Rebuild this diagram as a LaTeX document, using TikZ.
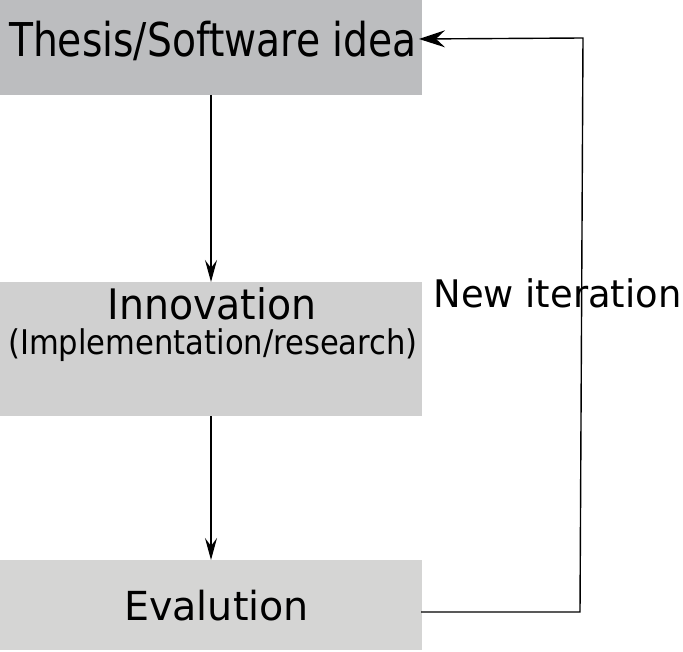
\documentclass[tikz,border=0pt]{standalone}
\usepackage{fontspec}
\setmainfont{DejaVu Sans}
\usetikzlibrary{arrows.meta}
\tikzset{
  box/.style={draw=none, inner sep=0pt, outer sep=0pt, minimum width=422pt},
  lbl/.style={anchor=base, inner sep=0pt, outer sep=0pt},
  conn/.style={line width=1.4pt, black},
  tip/.style={-{Stealth[length=22pt,width=12pt,inset=8pt]}},
  bigtip/.style={-{Stealth[length=26pt,width=17pt,inset=9pt]}}
}
\begin{document}
\begin{tikzpicture}[x=1pt,y=-1pt]
\useasboundingbox (0,0) rectangle (683,652);
\node[box, fill={rgb,255:red,188;green,189;blue,191}, minimum height=95pt, anchor=north west] (title) at (0,0) {};
\node[box, fill={rgb,255:red,208;green,208;blue,208}, minimum height=134pt, anchor=north west] (innov) at (0,282) {};
\node[box, fill={rgb,255:red,213;green,213;blue,212}, minimum height=90pt, anchor=north west] (eval) at (0,560) {};

\node[lbl] (titletxt) at (213,57) {\fontsize{46.6pt}{50pt}\selectfont\scalebox{0.843}[1]{Thesis/Software idea}};
\node[lbl] (innovtxt) at (212,320) {\fontsize{42pt}{46pt}\selectfont\scalebox{0.94}[1]{Innovation}};
\node[lbl] (impltxt) at (213,355) {\fontsize{34pt}{38pt}\selectfont\scalebox{0.9}[1]{(Implementation/research)}};
\node[lbl] (evaltxt) at (216.5,620) {\fontsize{40pt}{44pt}\selectfont\scalebox{0.99}[1]{Evalution}};
\node[lbl] (newit) at (557.5,308) {\fontsize{38pt}{42pt}\selectfont\scalebox{0.97}[1]{New iteration}};

\coordinate (c1) at (580,612);
\coordinate (c2) at (583,38);
\coordinate (c0) at (421,612);
\coordinate (c3) at (419,39);

\draw[conn, tip] (title.south) -- (innov.north);
\draw[conn, tip] (innov.south) -- (eval.north);
\draw[conn, bigtip] (c0) -- (c1) -- (c2) -- (c3);
\end{tikzpicture}
\end{document}
